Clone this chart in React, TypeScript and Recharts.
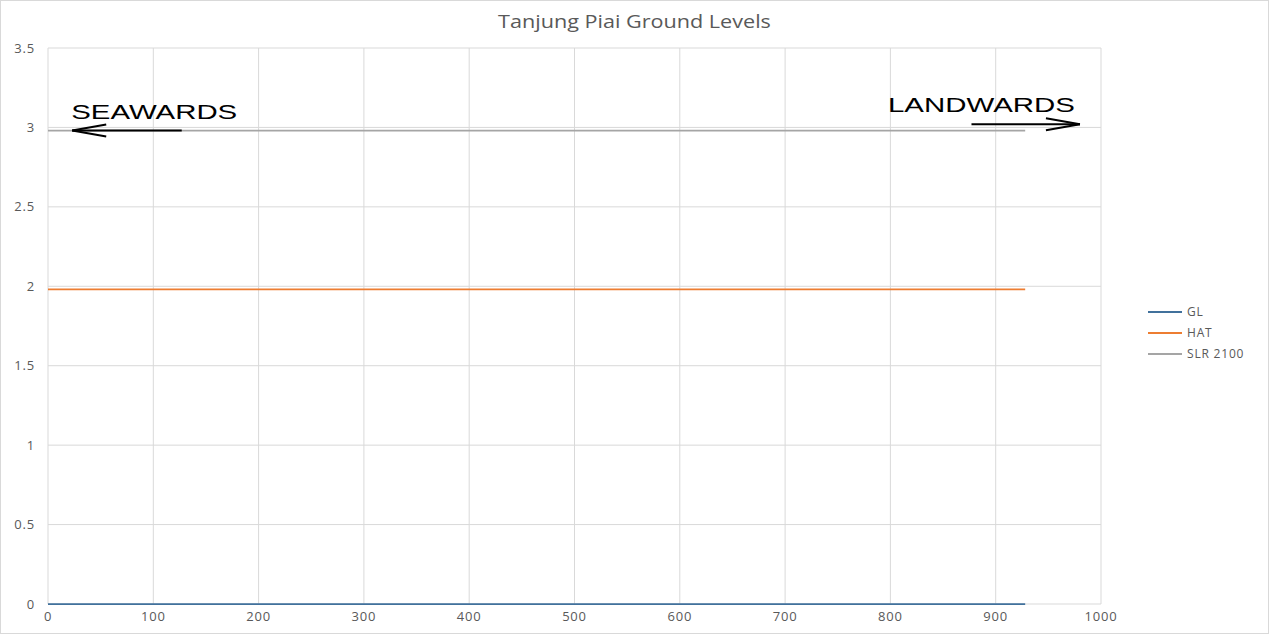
import React from "react";
import {
  LineChart,
  Line,
  XAxis,
  YAxis,
  CartesianGrid,
  Legend,
  ReferenceLine,
} from "recharts";

// distance along the transect (m)
const distances = [0, 928];
const glValues = [0, 0];
const hatValues = [1.98, 1.98];
const slrValues = [2.98, 2.98];

const xTicks = [0, 100, 200, 300, 400, 500, 600, 700, 800, 900, 1000];
const yTicks = [0, 0.5, 1, 1.5, 2, 2.5, 3, 3.5];

const seriesNames = ["GL", "HAT", "SLR 2100"];
const colors = ["#41719c", "#ed7d31", "#a5a5a5"];

// annotation arrows, in data units
const seaward = { label: "SEAWARDS", from: 127, to: 23, y: 2.98 };
const landward = { label: "LANDWARDS", from: 877, to: 980, y: 3.02 };

const data = distances.map((d, i) => ({
  dist: d,
  GL: glValues[i],
  HAT: hatValues[i],
  "SLR 2100": slrValues[i],
}));

const font = "'Open Sans', sans-serif";

const arrowShape = (label: string, textWidth: number, textAlign: "start" | "end") =>
  (props: any) => {
    const { x1, y1, x2, y2 } = props;
    const dir = x2 > x1 ? 1 : -1;
    const tx = textAlign === "start" ? x2 - 1 : x2 - 5;
    return (
      <g>
        <line x1={x1} y1={y1} x2={x2} y2={y2} stroke="#000" strokeWidth={2} />
        <line x1={x2} y1={y2} x2={x2 - dir * 34} y2={y2 - 6} stroke="#000" strokeWidth={2} />
        <line x1={x2} y1={y2} x2={x2 - dir * 34} y2={y2 + 6} stroke="#000" strokeWidth={2} />
        <text
          x={tx}
          y={y2 - 12}
          textAnchor={textAlign}
          fontFamily="'Liberation Sans', Arial, sans-serif"
          fontSize={21}
          fill="#000"
          textLength={textWidth}
          lengthAdjust="spacingAndGlyphs"
        >
          {label}
        </text>
      </g>
    );
  };

const renderLegend = () => (
  <div style={{ fontFamily: font, fontSize: 12, color: "#595959", letterSpacing: 0.8 }}>
    {seriesNames.map((name, i) => (
      <div key={name} style={{ display: "flex", alignItems: "center", height: 21 }}>
        <span
          style={{
            display: "inline-block",
            width: 34,
            height: 2,
            background: colors[i],
            marginRight: 5,
          }}
        />
        {name}
      </div>
    ))}
  </div>
);

export default function App() {
  return (
    <div
      style={{
        position: "absolute",
        left: 0,
        top: 0,
        width: 1269,
        height: 634,
        background: "#fff",
        border: "1px solid #d9d9d9",
        boxSizing: "border-box",
      }}
    >
      <div
        style={{
          position: "absolute",
          top: 8,
          width: "100%",
          textAlign: "center",
          fontFamily: font,
          fontSize: 18,
          color: "#595959",
          transform: "scaleX(1.2)",
        }}
      >
        Tanjung Piai Ground Levels
      </div>
      <LineChart
        width={1267}
        height={632}
        data={data}
        margin={{ top: 47, right: 57, bottom: 0, left: 0 }}
      >
        <CartesianGrid stroke="#d9d9d9" strokeWidth={1} />
        <XAxis
          dataKey="dist"
          type="number"
          domain={[0, 1000]}
          ticks={xTicks}
          axisLine={false}
          tickLine={false}
          tickSize={4}
          tickMargin={4}
          height={29}
          tick={{ fill: "#595959", fontSize: 13, fontFamily: font, letterSpacing: 0.8 }}
        />
        <YAxis
          type="number"
          domain={[0, 3.5]}
          ticks={yTicks}
          axisLine={false}
          tickLine={false}
          tickSize={5}
          tickMargin={8}
          width={47}
          tick={{ fill: "#595959", fontSize: 13, fontFamily: font, letterSpacing: 0.8 }}
        />
        <Legend
          layout="vertical"
          align="right"
          verticalAlign="top"
          content={renderLegend}
          wrapperStyle={{ left: 1147, top: 300, width: 110 }}
        />
        {seriesNames.map((name, i) => (
          <Line
            key={name}
            dataKey={name}
            stroke={colors[i]}
            strokeWidth={1.75}
            dot={false}
            isAnimationActive={false}
          />
        ))}
        <ReferenceLine
          segment={[
            { x: seaward.from, y: seaward.y },
            { x: seaward.to, y: seaward.y },
          ]}
          shape={arrowShape(seaward.label, 166, "start")}
        />
        <ReferenceLine
          segment={[
            { x: landward.from, y: landward.y },
            { x: landward.to, y: landward.y },
          ]}
          shape={arrowShape(landward.label, 187, "end")}
        />
      </LineChart>
    </div>
  );
}
